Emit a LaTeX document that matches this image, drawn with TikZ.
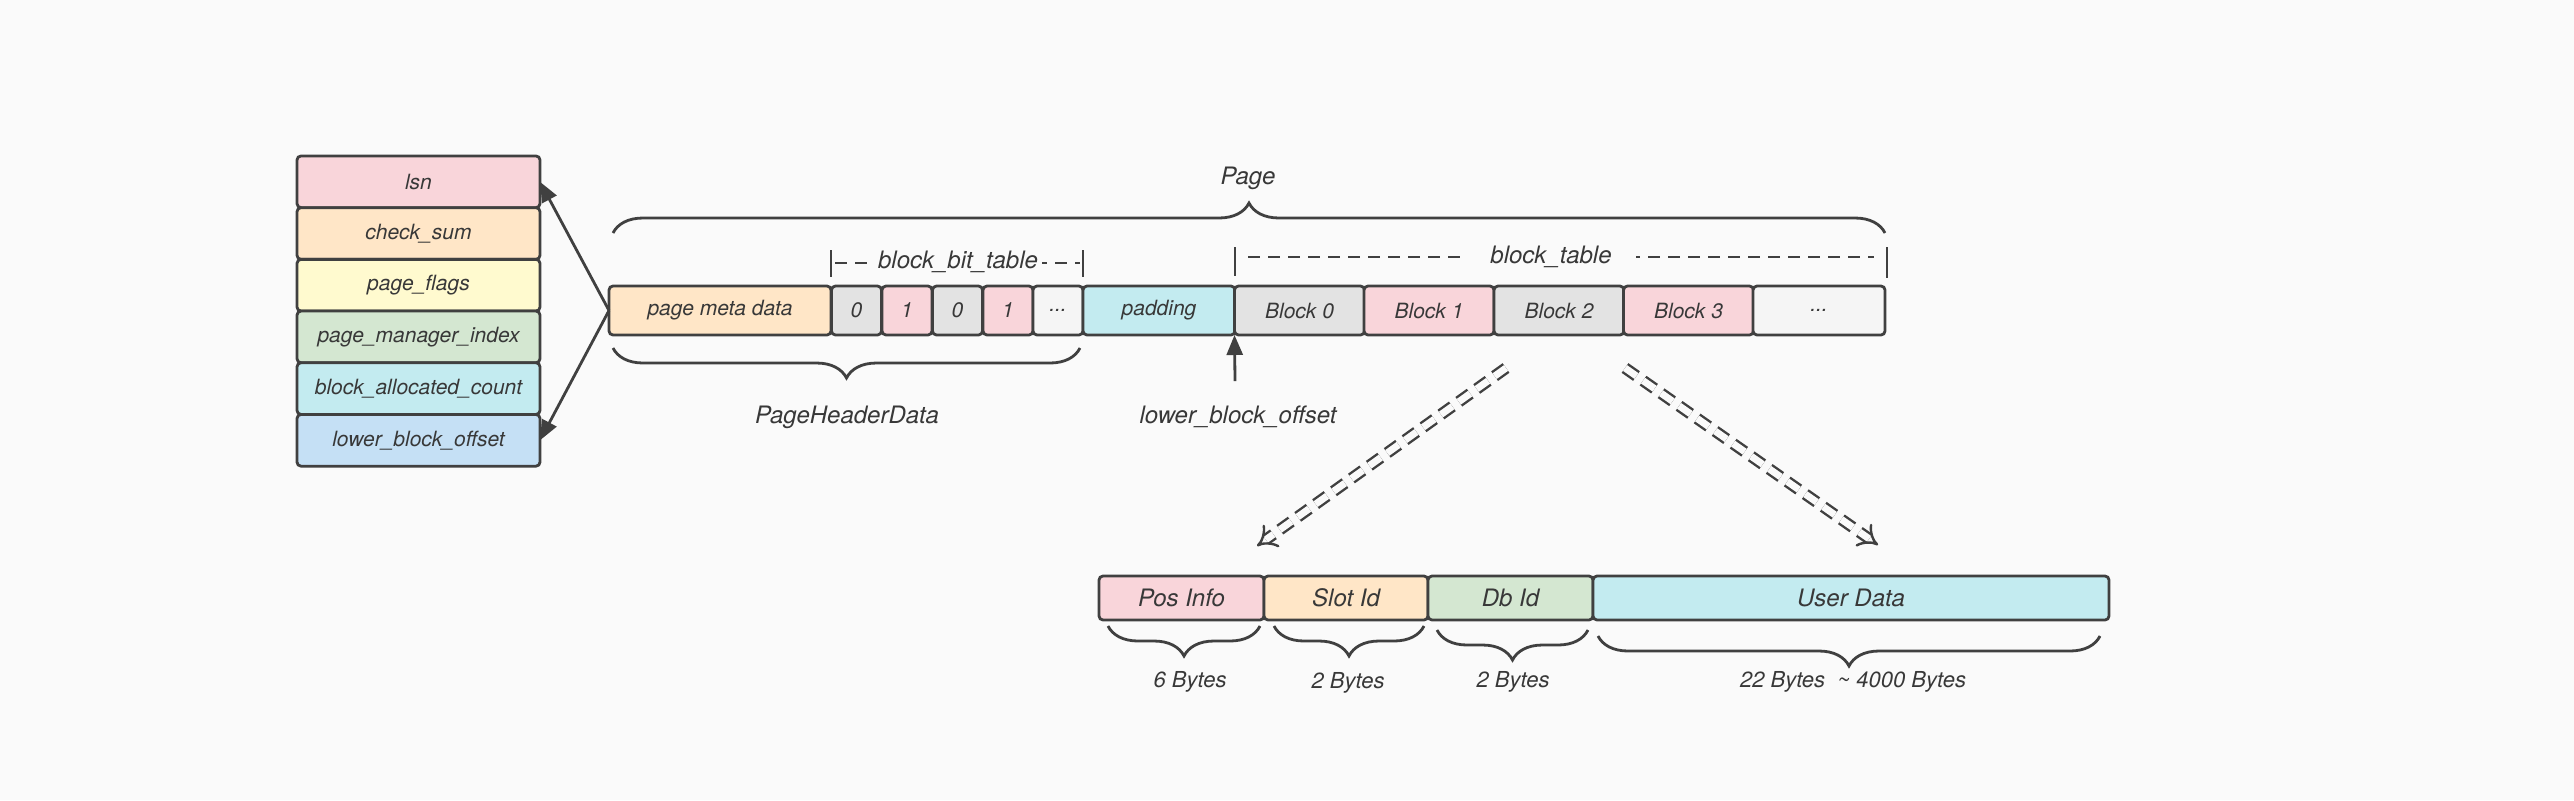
\documentclass[tikz,border=0pt]{standalone}
\usepackage{fontspec}
\setsansfont{TeX Gyre Heros}
\usetikzlibrary{arrows.meta,decorations.pathreplacing}
\definecolor{bgc}{HTML}{FAFAFA}
\definecolor{linec}{HTML}{404040}
\definecolor{txtc}{HTML}{383838}
\definecolor{pinkc}{HTML}{F9D5DA}
\definecolor{peachc}{HTML}{FFE6C7}
\definecolor{yellowc}{HTML}{FFFACF}
\definecolor{greenc}{HTML}{D4E7D1}
\definecolor{cyanc}{HTML}{C3EBF0}
\definecolor{bluec}{HTML}{C5E0F5}
\definecolor{grayc}{HTML}{E3E3E3}
\definecolor{lightc}{HTML}{F5F5F5}
\tikzset{
  cell/.style={draw=linec, line width=1.4pt, rounded corners=2pt, outer sep=0pt, inner sep=0pt,
    text=txtc, font=\sffamily\itshape\fontsize{10.5}{12}\selectfont},
  field/.style={cell, minimum width=121.5pt, minimum height=25.85pt},
  bit/.style={cell, minimum width=25pt, minimum height=24.5pt},
  blk/.style={cell, minimum width=65pt, minimum height=24.5pt},
  part/.style={cell, minimum height=22pt, font=\sffamily\itshape\fontsize{12}{14}\selectfont},
  lbl/.style={text=txtc, font=\sffamily\itshape\fontsize{12}{14}\selectfont},
  bytes/.style={text=txtc, font=\sffamily\itshape\fontsize{11}{13}\selectfont},
  brc/.style={draw=linec, line width=1.4pt, decorate, decoration={brace, amplitude=#1}},
  bar/.style={draw=linec, line width=1.4pt},
  dashline/.style={draw=linec, line width=1.4pt, dash pattern=on 6pt off 4pt},
  ptr/.style={draw=linec, line width=1.4pt, -{Triangle[length=10pt,width=8pt]}},
  fat/.style={draw=linec, line width=1.2pt, double=bgc, double distance=3.5pt,
    dash pattern=on 7pt off 4pt, -{Implies[scale=1.6]}},
}
\begin{document}
\begin{tikzpicture}[x=0.5pt, y=-0.5pt]
\fill[bgc] (0,0) rectangle (2574,800);
\useasboundingbox (0,0) rectangle (2574,800);
% header fields
\node[field, fill=pinkc] (lsn) at (418.5,181.8) {lsn};
\node[field, fill=peachc] (sum) at (418.5,233.5) {check\_sum};
\node[field, fill=yellowc] (flags) at (418.5,285.2) {page\_flags};
\node[field, fill=greenc] (pmi) at (418.5,336.9) {page\_manager\_index};
\node[field, fill=cyanc] (bac) at (418.5,388.6) {block\_allocated\_count};
\node[field, fill=bluec] (lbo) at (418.5,440.3) {lower\_block\_offset};
% page row
\node[cell, fill=peachc, minimum width=111pt, minimum height=24.5pt] (meta) at (720,310.5) {page meta data};
\node[bit, fill=grayc] (b0) at (856.5,310.5) {0};
\node[bit, fill=pinkc] (b1) at (907,310.5) {1};
\node[bit, fill=grayc] (b2) at (957.5,310.5) {0};
\node[bit, fill=pinkc] (b3) at (1008,310.5) {1};
\node[bit, fill=lightc] (bd) at (1058,310.5) {...};
\node[cell, fill=cyanc, minimum width=76pt, minimum height=24.5pt] (pad) at (1159,310.5) {padding};
\node[blk, fill=grayc] (blk0) at (1299.5,310.5) {Block 0};
\node[blk, fill=pinkc] (blk1) at (1429,310.5) {Block 1};
\node[blk, fill=grayc] (blk2) at (1559,310.5) {Block 2};
\node[blk, fill=pinkc] (blk3) at (1688.5,310.5) {Block 3};
\node[blk, fill=lightc, minimum width=66pt] (blkd) at (1819,310.5) {...};
\draw[ptr] (meta.west) -- (lsn.east);
\draw[ptr] (meta.west) -- (lbo.east);
% page brace
\draw[brc=15pt] (613,233) -- (1885,233);
\node[lbl] (page) at (1248,178) {Page};
% bit table
\draw[bar] (831,250) -- (831,277);
\draw[bar] (1083,250) -- (1083,277);
\draw[dashline] (835,263) -- (1080,263);
\node[lbl, fill=bgc, inner xsep=2pt] (bbt) at (958,262) {block\_bit\_table};
% block table
\draw[bar] (1235,247) -- (1235,276);
\draw[bar] (1887,247) -- (1887,278);
\draw[dashline] (1248,257) -- (1874,257);
\node[lbl, fill=bgc, inner xsep=12pt] (btab) at (1551,257) {block\_table};
% header data
\draw[brc=15pt] (1080,348) -- (613,348);
\node[lbl] (phd) at (847,417) {PageHeaderData};
\coordinate (low) at (1235,381);
\draw[ptr] (low) -- (blk0.south west);
\node[lbl] (lowtxt) at (1238,417) {lower\_block\_offset};
% block layout
\node[part, fill=pinkc, minimum width=82.5pt] (pos) at (1181.5,598) {Pos Info};
\node[part, fill=peachc, minimum width=82pt] (slot) at (1346,598) {Slot Id};
\node[part, fill=greenc, minimum width=82.5pt] (db) at (1510.5,598) {Db Id};
\node[part, fill=cyanc, minimum width=258pt] (user) at (1851,598) {User Data};
\coordinate (la) at (1506,368);
\coordinate (lb) at (1257,546);
\coordinate (ra) at (1625,368);
\coordinate (rb) at (1878,545);
\draw[fat] (la) -- (lb);
\draw[fat] (ra) -- (rb);
\draw[brc=15pt] (1260,626) -- (1108,626);
\draw[brc=15pt] (1424,626) -- (1274,626);
\draw[brc=15pt] (1588,630) -- (1437,630);
\draw[brc=15pt] (2100,636) -- (1598,636);
\node[bytes] (s1) at (1190,682) {6 Bytes};
\node[bytes] (s2) at (1348,683) {2 Bytes};
\node[bytes] (s3) at (1513,682) {2 Bytes};
\node[bytes] (s4) at (1853,682) {22 Bytes\ \ \textasciitilde\ 4000 Bytes};
\end{tikzpicture}
\end{document}
